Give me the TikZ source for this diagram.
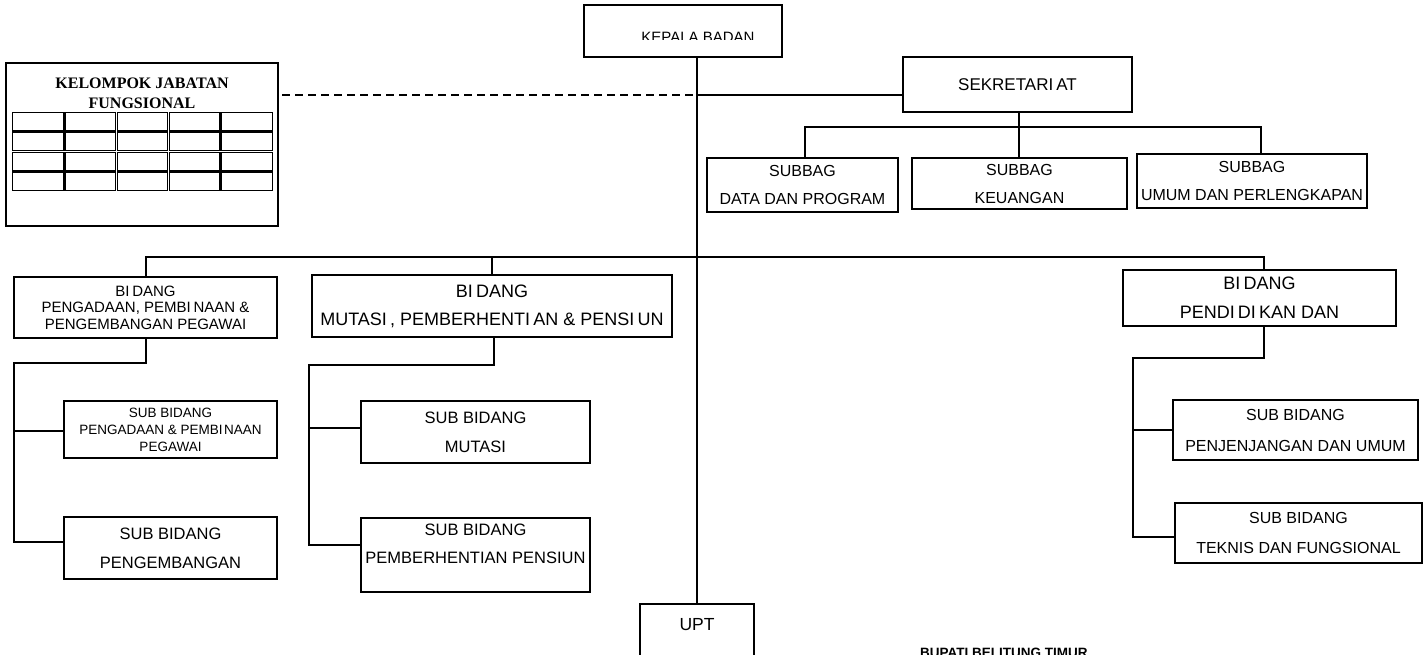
\documentclass[tikz,border=0pt]{standalone}
\usepackage{fontspec}
\setmainfont{Liberation Sans}
\newfontfamily\serifbold{Liberation Serif}
\usetikzlibrary{positioning}
\newcommand\gap{\kern0.18em}
\tikzset{
  box/.style={draw, line width=2pt, align=center, inner sep=0pt},
  link/.style={line width=2pt},
  fnt/.style 2 args={font=\fontsize{#1}{#2}\selectfont},
  cell/.style={line width=1.3pt}
}
\begin{document}
\begin{tikzpicture}[x=1pt,y=-1pt]
	\useasboundingbox (0,0) rectangle (1424,655);
	% Top: kepala badan and sekretariat
	\node[box, minimum width=198pt, minimum height=52pt] (kepala) at (683,31) {};
	\coordinate (kcut) at (0,39.5);
	\begin{scope}
		\clip (kepala.north west) rectangle (kepala.east |- kcut);
		\node[fnt={15}{17}] (kepalatext) at (698,37.5) {KEPALA BADAN};
	\end{scope}
	\node[box, fnt={17}{20}, minimum width=229pt, minimum height=55pt] (sekre) at (1017.5,84.5) {SEKRETARI\gap AT};
	\node[box, fnt={16}{28}, minimum width=191pt, minimum height=54pt] (subdata) at (802.5,185) {SUBBAG\\DATA DAN PROGRAM};
	\node[box, fnt={16}{28}, minimum width=215pt, minimum height=51pt] (subkeu) at (1019.5,183.5) {SUBBAG\\KEUANGAN};
	\node[box, fnt={16}{28}, minimum width=230pt, minimum height=54pt] (subumum) at (1252,181) {SUBBAG\\UMUM DAN PERLENGKAPAN};
	% Kelompok jabatan fungsional with its table
	\node[box, minimum width=272pt, minimum height=163pt] (kelompok) at (142,144.5) {};
	\node[align=center, font=\serifbold\bfseries\fontsize{16}{20}\selectfont] (jftitle) at (142,93) {KELOMPOK JABATAN\\FUNGSIONAL};
	\foreach \c in {0,...,4}
		\foreach \r in {0,...,3}
			\draw[cell] ({12.8+52.2*\c},{112.8+19.75*\r}) rectangle ({52.2*(\c+1)+11.2},{19.75*(\r+1)+111.2});
	% Bidang
	\node[box, fnt={15}{16.5}, minimum width=263pt, minimum height=61pt] (bid1) at (145.5,307.5) {BI\gap DANG\\PENGADAAN, PEMBI\gap NAAN \&\\PENGEMBANGAN PEGAWAI};
	\node[box, fnt={18}{28}, minimum width=360pt, minimum height=62pt] (bid2) at (492,306) {BI\gap DANG\\MUTASI\gap , PEMBERHENTI\gap AN \& PENSI\gap UN};
	\node[box, fnt={18}{29}, minimum width=273pt, minimum height=56pt] (bid3) at (1259.5,298) {BI\gap DANG\\PENDI\gap DI\gap KAN DAN};
	% Sub bidang
	\node[box, fnt={13.5}{17}, minimum width=213pt, minimum height=57pt] (sub11) at (170.5,429.5) {SUB BIDANG\\PENGADAAN \& PEMBI\kern.1em NAAN\\PEGAWAI};
	\node[box, fnt={16.5}{29}, minimum width=213pt, minimum height=62pt] (sub12) at (170.5,548) {SUB BIDANG\\PENGEMBANGAN};
	\node[box, fnt={16.5}{29}, minimum width=229pt, minimum height=62pt] (sub21) at (475.5,432) {SUB BIDANG\\MUTASI};
	\node[box, fnt={16.5}{28}, minimum width=229pt, minimum height=74pt] (sub22) at (475.5,555) {SUB BIDANG\\PEMBERHENTIAN PENSIUN\\[-6pt]\mbox{}};
	\node[box, fnt={16}{31}, minimum width=245pt, minimum height=60pt] (sub31) at (1295.5,430) {SUB BIDANG\\PENJENJANGAN DAN UMUM};
	\node[box, fnt={16}{30}, minimum width=247pt, minimum height=60pt] (sub32) at (1298.5,533) {SUB BIDANG\\TEKNIS DAN FUNGSIONAL};
	% UPT and the signature line (cut off by the page)
	\node[box, minimum width=114pt, minimum height=70pt, anchor=north] (upt) at (697,603) {};
	\node[fnt={17.5}{20}] (upttext) at (697,625) {UPT};
	\node[font=\bfseries\fontsize{13.5}{16}\selectfont, anchor=base west, inner sep=0pt] (bupati) at (920,657) {BUPATI BELITUNG TIMUR};
	% Connectors
	\coordinate (jf) at (698,95);
	\draw[link, dash pattern=on 8pt off 5pt] ([xshift=3pt]kelompok.east |- jf) -- (jf);
	\draw[link] (jf) -- (jf -| sekre.west);
	\draw[link] (upt.north |- kepala.south) -- (upt.north);
	\coordinate (sbus) at (0,127);
	\draw[link] ([xshift=1.5pt]sekre.south) -- ([xshift=1.5pt]sekre.south |- subkeu.north);
	\draw[link] ([xshift=2.5pt]subdata.north) |- ([xshift=9pt]subumum.north |- sbus) -- ([xshift=9pt]subumum.north);
	\coordinate (mbus) at (0,257);
	\draw[link] (bid1.north) |- ([xshift=4.5pt]bid3.north |- mbus) -- ([xshift=4.5pt]bid3.north);
	\draw[link] (bid2.north) -- (bid2.north |- mbus);
	% left column
	\coordinate (lsp) at (14,363);
	\coordinate (l1) at ([yshift=-1.5pt]sub11.west);
	\draw[link] (bid1.south) |- (lsp) |- ([yshift=6pt]sub12.west);
	\draw[link] (lsp |- l1) -- (l1);
	% middle column
	\coordinate (msp) at (309,365);
	\coordinate (m1) at ([yshift=4pt]sub21.west);
	\draw[link] ([xshift=2pt]bid2.south) |- (msp) |- ([yshift=10pt]sub22.west);
	\draw[link] (msp |- m1) -- (m1);
	% right column
	\coordinate (rsp) at (1133,358);
	\draw[link] ([xshift=4.5pt]bid3.south) |- (rsp) |- ([yshift=-4pt]sub32.west);
	\draw[link] (rsp |- sub31.west) -- (sub31.west);
\end{tikzpicture}
\end{document}
